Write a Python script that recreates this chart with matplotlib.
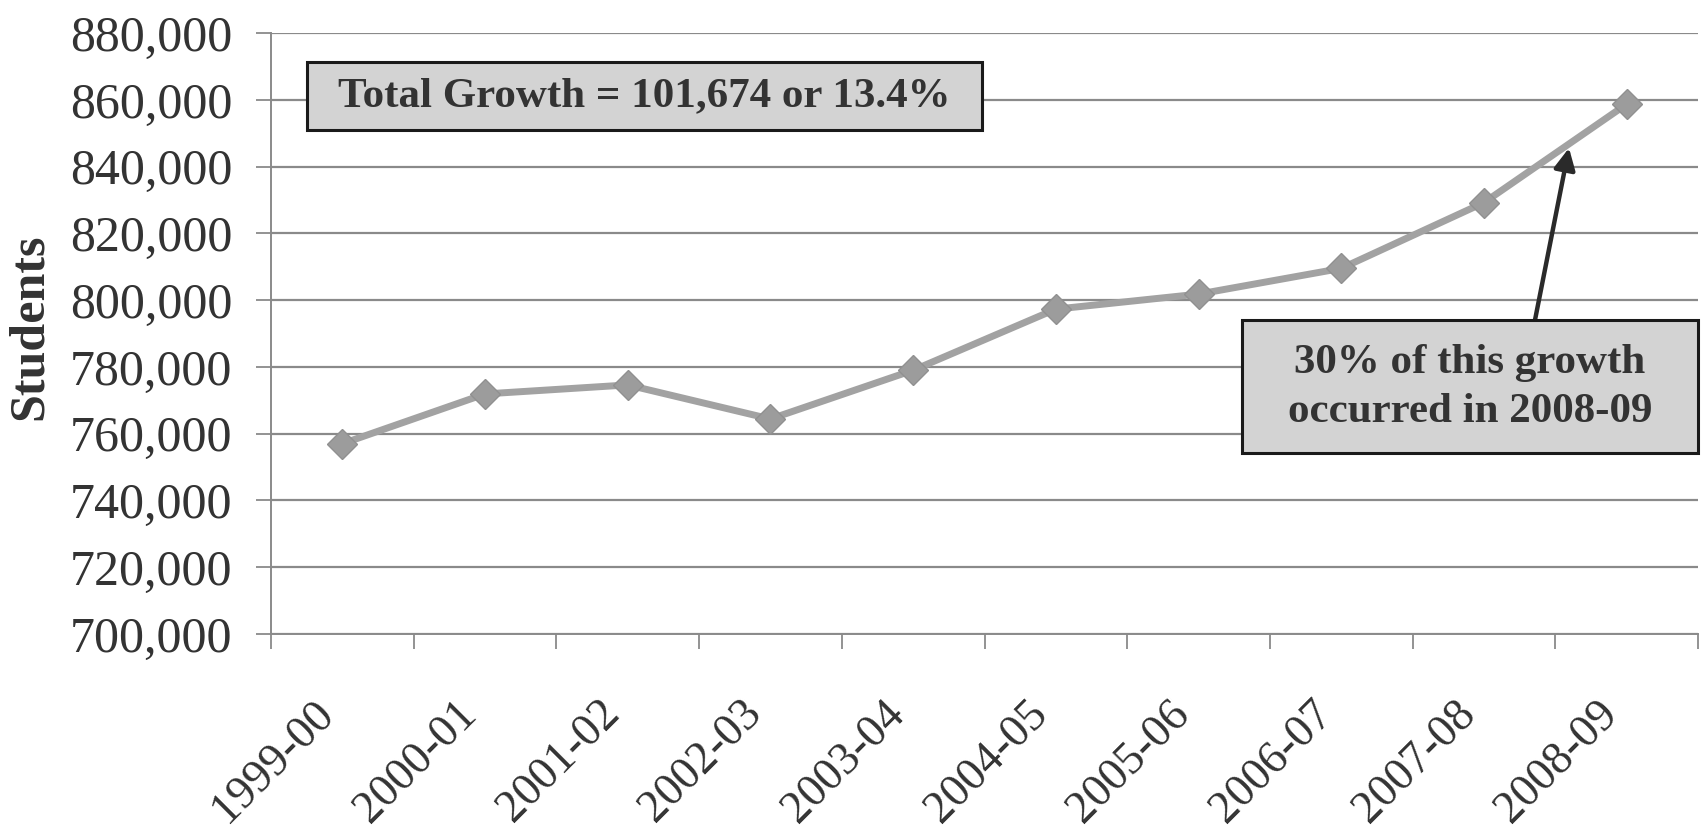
import matplotlib
matplotlib.use("Agg")
import matplotlib.pyplot as plt
from matplotlib.patches import Rectangle
from matplotlib.ticker import FuncFormatter, FixedLocator
from matplotlib.transforms import ScaledTranslation

# ---- data ----
years = ["1999-00", "2000-01", "2001-02", "2002-03", "2003-04",
         "2004-05", "2005-06", "2006-07", "2007-08", "2008-09"]
students = [757000, 771900, 774600, 764400, 779000,
            797300, 801800, 809500, 829200, 858700]
y_ticks = [700000, 720000, 740000, 760000, 780000, 800000, 820000, 840000, 860000, 880000]
box1_text = "Total Growth = 101,674 or 13.4%"
box2_text = "30% of this growth\noccurred in 2008-09"
y_label = "Students"

W, H = 1701, 830
plt.rcParams['font.family'] = ['Liberation Serif', 'DejaVu Serif']
fig = plt.figure(figsize=(W / 100, H / 100), dpi=100)

def fx(px):
    return px / W

def fy(py):
    return 1 - py / H

left, right, top, bottom = 271, 1698, 33, 634
ax = fig.add_axes([fx(left), fy(bottom), fx(right) - fx(left), fy(top) - fy(bottom)])

grid_c = "#8a8a8a"
text_c = "#333333"
line_c = "#a2a2a2"

x = list(range(len(years)))
ax.plot(x, students, color=line_c, lw=5, marker="D", markersize=15,
        markerfacecolor="#9c9c9c", markeredgecolor="#909090", zorder=3)

ax.set_xlim(-0.5, len(years) - 0.5)
ax.set_ylim(y_ticks[0], y_ticks[-1])
ax.yaxis.set_major_locator(FixedLocator(y_ticks))
ax.yaxis.set_major_formatter(FuncFormatter(lambda v, p: f"{int(v):,}"))
ax.grid(axis="y", color=grid_c, lw=1.6, zorder=1)

ax.set_xticks(x)
ax.set_xticklabels(years, rotation=45, ha="right", fontsize=33, color=text_c)
shift = ScaledTranslation(20 / 100, 0, fig.dpi_scale_trans)
for lbl in ax.get_xticklabels():
    lbl.set_transform(lbl.get_transform() + shift)
ax.set_xticks([i - 0.5 for i in range(len(years) + 1)], minor=True)
ax.tick_params(axis="x", which="major", length=0, pad=42)
ax.tick_params(axis="x", which="minor", length=11, width=1.3, color=grid_c, direction="out")
ax.tick_params(axis="y", which="major", length=11, width=1.3, color=grid_c,
               labelsize=36, labelcolor=text_c, pad=17)

for s in ["top", "right"]:
    ax.spines[s].set_visible(False)
for s in ["left", "bottom"]:
    ax.spines[s].set_color(grid_c)
    ax.spines[s].set_linewidth(1.4)

ax.set_ylabel(y_label, fontsize=36, fontweight="bold", color=text_c)
ax.yaxis.set_label_coords((53 - left) / (right - left), (bottom - 327) / (bottom - top))

# ---- annotation box 1 ----
b1 = (307, 62, 982, 130)
fig.add_artist(Rectangle((fx(b1[0]), fy(b1[3])), fx(b1[2]) - fx(b1[0]), fy(b1[1]) - fy(b1[3]),
                         transform=fig.transFigure, facecolor="#d3d3d3", edgecolor="#1a1a1a",
                         lw=2.2, zorder=5))
fig.text(fx((b1[0] + b1[2]) / 2), fy((b1[1] + b1[3]) / 2), box1_text, ha="center", va="center",
         fontsize=31, fontweight="bold", color=text_c, zorder=6)

# ---- annotation box 2 + arrow ----
b2 = (1242, 320, 1698, 453)
fig.add_artist(Rectangle((fx(b2[0]), fy(b2[3])), fx(b2[2]) - fx(b2[0]), fy(b2[1]) - fy(b2[3]),
                         transform=fig.transFigure, facecolor="#d3d3d3", edgecolor="#1a1a1a",
                         lw=2.2, zorder=5))
fig.text(fx((b2[0] + b2[2]) / 2), fy((b2[1] + b2[3]) / 2 + 1), box2_text, ha="center", va="center",
         fontsize=31, fontweight="bold", color=text_c, linespacing=1.35, zorder=6)

ax.annotate("", xy=(fx(1569), fy(148)), xycoords="figure fraction",
            xytext=(fx(1535), fy(320)), textcoords="figure fraction",
            arrowprops=dict(arrowstyle="-|>", color="#2a2a2a", lw=3.2, mutation_scale=32,
                            shrinkA=0, shrinkB=0), zorder=6)

fig.savefig("out.png", dpi=100, facecolor="white")
